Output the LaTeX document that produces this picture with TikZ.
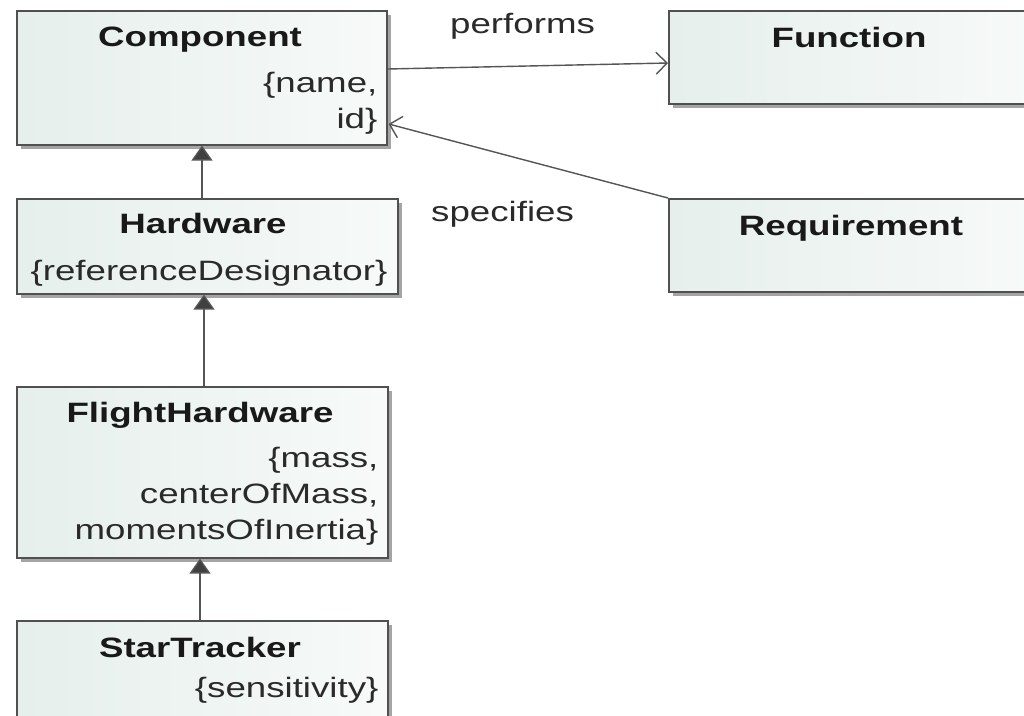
\documentclass[tikz,border=0pt]{standalone}
\usepackage{fontspec}
\setmainfont{Liberation Sans}[FakeStretch=1.31]
\usetikzlibrary{arrows.meta,shadows,calc}
\definecolor{boxline}{HTML}{505050}
\definecolor{boxleft}{HTML}{E6EFEC}
\definecolor{boxright}{HTML}{F7FAF9}
\definecolor{shadowgray}{HTML}{A4A4A4}
\definecolor{conn}{HTML}{555555}
\definecolor{txt}{HTML}{2A2A2A}
\begin{document}
\begin{tikzpicture}[x=1pt,y=-1pt,
  umlbox/.style={draw=boxline, line width=1.6pt, left color=boxleft, right color=boxright,
    anchor=north west, inner sep=0pt,
    drop shadow={shadow xshift=4pt, shadow yshift=-4pt, fill=shadowgray, opacity=1}},
  titletext/.style={font=\fontsize{28}{34}\selectfont\bfseries, text=black!90, inner sep=0pt, anchor=base},
  attrtext/.style={font=\fontsize{28}{34}\selectfont, text=txt, inner sep=0pt, anchor=base east},
  labeltext/.style={font=\fontsize{28}{34}\selectfont, text=txt, inner sep=0pt, anchor=base west},
  assoc/.style={draw=conn, line width=1.4pt, -{Straight Barb[length=11pt, width=22pt, line width=1.4pt]}},
  inherit/.style={draw=conn, line width=1.4pt, -{Triangle[length=15pt, width=21pt, fill=black!75]}}
]
\useasboundingbox (0,0) rectangle (1024,715);
\fill[white] (0,0) rectangle (1024,715);

% boxes
\node[umlbox, minimum width=370pt, minimum height=134pt] (comp) at (16,10) {};
\node[umlbox, minimum width=381pt, minimum height=95pt] (hw) at (16,198) {};
\node[umlbox, minimum width=371pt, minimum height=171pt] (fh) at (16,386) {};
\node[umlbox, minimum width=371pt, minimum height=130pt] (st) at (16,620) {};
\node[umlbox, minimum width=368pt, minimum height=93pt] (func) at (668,10) {};
\node[umlbox, minimum width=368pt, minimum height=93pt] (req) at (668,198) {};

% Component
\node[titletext] (compT) at ($(comp.north west)+(184,36)$) {Component};
\node[attrtext] (compA1) at ($(comp.north east)+(-10,82)$) {\{name,};
\node[attrtext] (compA2) at ($(comp.north east)+(-10,118)$) {id\}};

% Hardware
\node[titletext] (hwT) at ($(hw.north west)+(187,35)$) {Hardware};
\node[attrtext] (hwA1) at ($(hw.north east)+(-11,82)$) {\{referenceDesignator\}};

% FlightHardware
\node[titletext] (fhT) at ($(fh.north west)+(184,36)$) {FlightHardware};
\node[attrtext] (fhA1) at ($(fh.north east)+(-10,81)$) {\{mass,};
\node[attrtext] (fhA2) at ($(fh.north east)+(-10,117)$) {centerOfMass,};
\node[attrtext] (fhA3) at ($(fh.north east)+(-10,153)$) {momentsOfInertia\}};

% StarTracker
\node[titletext] (stT) at ($(st.north west)+(184,37)$) {StarTracker};
\node[attrtext] (stA1) at ($(st.north east)+(-10,77)$) {\{sensitivity\}};

% Function / Requirement
\node[titletext] (funcT) at ($(func.north west)+(181,37)$) {Function};
\node[titletext] (reqT) at ($(req.north west)+(183,37)$) {Requirement};

% associations
\draw[assoc] ($(comp.north east)+(0,59)$) -- ($(func.north west)+(0,53)$);
\draw[assoc] (req.north west) -- ($(comp.north east)+(1,114)$);
\node[labeltext] (lperf) at (450,33) {performs};
\node[labeltext] (lspec) at (431,221) {specifies};

% generalizations
\draw[inherit] ($(hw.north west)+(186,0)$) -- ($(comp.south west)+(186,0)$);
\draw[inherit] ($(fh.north west)+(188,0)$) -- ($(hw.south west)+(188,0)$);
\draw[inherit] ($(st.north west)+(184,0)$) -- ($(fh.south west)+(184,0)$);
\end{tikzpicture}
\end{document}
